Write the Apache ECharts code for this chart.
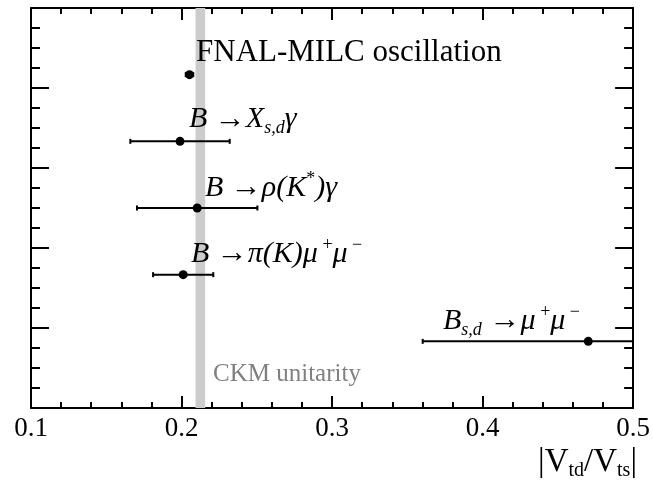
<!DOCTYPE html>
<html>
<head>
<meta charset="utf-8">
<script src="https://cdn.jsdelivr.net/npm/echarts@6/dist/echarts.min.js"></script>
<style>
  html, body { margin: 0; padding: 0; background: #fff; }
  #chart { width: 653px; height: 482px; }
</style>
</head>
<body>
<div id="chart"></div>
<script>
// measurements of |Vtd/Vts|, one row per method (row 5 = top)
const rows = [5, 4, 3, 2, 1];
const central = [0.2053, 0.199, 0.2104, 0.2011, 0.4702];
const errLow = [0.0025, 0.033, 0.040, 0.020, 0.110];
const errHigh = [0.0025, 0.033, 0.040, 0.020, 0.110];
// CKM unitarity band
const ckmBand = [0.2093, 0.2157];
const xTicks = [0.1, 0.2, 0.3, 0.4, 0.5];

const serif = "'Liberation Serif', 'Times New Roman', serif";
const black = "#000";

const rich = {
  n: { fontFamily: serif, fontSize: 31, lineHeight: 36, color: black },
  i: { fontFamily: serif, fontSize: 30, fontStyle: "italic", lineHeight: 36, color: black },
  r: { fontFamily: serif, fontSize: 31, lineHeight: 36, color: black },
  sub: { fontFamily: serif, fontSize: 18, fontStyle: "italic", lineHeight: 18, verticalAlign: "bottom", color: black },
  sup: { fontFamily: serif, fontSize: 18, lineHeight: 20, verticalAlign: "top", color: black },
};

// label text and where it sits (left, top in px)
const labelTexts = [
  "{n|FNAL-MILC oscillation}",
  "{i|B }{r|→}{i|X}{sub|s,d}{i|γ}",
  "{i|B }{r|→}{i|ρ(K}{sup|*}{i|)γ}",
  "{i|B }{r|→}{i|π(K)μ}{sup| +}{i|μ}{sup| −}",
  "{i|B}{sub|s,d}{r| →}{i|μ}{sup| +}{i|μ}{sup| −}",
];
const labelPos = [
  [196, 37],
  [189, 104],
  [205, 170],
  [191, 236],
  [443, 303],
];

const chart = echarts.init(document.getElementById("chart"));

const xCommon = {
  type: "value",
  min: 0.1,
  max: 0.5,
  interval: 0.1,
  axisLine: { show: true, onZero: false, lineStyle: { color: black, width: 2 } },
  axisTick: { show: true, inside: true, length: 12, lineStyle: { color: black, width: 2 } },
  minorTick: { show: true, splitNumber: 5, length: 6, lineStyle: { color: black, width: 2 } },
  splitLine: { show: false },
};
const yCommon = {
  type: "value",
  min: 0,
  max: 6,
  interval: 1.2,
  axisLine: { show: true, onZero: false, lineStyle: { color: black, width: 2 } },
  axisTick: { show: true, inside: true, length: 18, lineStyle: { color: black, width: 2 } },
  minorTick: { show: true, splitNumber: 4, length: 9, lineStyle: { color: black, width: 2 } },
  splitLine: { show: false },
  axisLabel: { show: false },
};

chart.setOption({
  backgroundColor: "#fff",
  animation: false,
  grid: { left: 31, right: 18, top: 8, bottom: 74 },
  xAxis: [
    Object.assign({}, xCommon, {
      position: "bottom",
      axisLabel: {
        show: true,
        margin: 7,
        color: black,
        fontFamily: serif,
        fontSize: 27,
        formatter: (v) => (xTicks.some((t) => Math.abs(t - v) < 1e-9) ? v.toFixed(1) : ""),
      },
    }),
    Object.assign({}, xCommon, { position: "top", axisLabel: { show: false } }),
  ],
  yAxis: [
    Object.assign({}, yCommon, { position: "left" }),
    Object.assign({}, yCommon, { position: "right" }),
  ],
  series: [
    {
      // CKM unitarity band
      type: "line",
      data: [],
      z: 1,
      silent: true,
      markArea: {
        silent: true,
        itemStyle: { color: "#cccccc" },
        data: [[{ xAxis: ckmBand[0] }, { xAxis: ckmBand[1] }]],
      },
    },
    {
      // horizontal error bars
      type: "custom",
      z: 2,
      clip: true,
      encode: { x: [0, 1], y: 2 },
      data: rows.map((r, i) => [central[i] - errLow[i], central[i] + errHigh[i], r]),
      renderItem: (params, api) => {
        const y = api.value(2);
        const p1 = api.coord([api.value(0), y]);
        const p2 = api.coord([api.value(1), y]);
        const st = { stroke: black, lineWidth: 2 };
        const h = 2.5;
        return {
          type: "group",
          children: [
            { type: "line", shape: { x1: p1[0], y1: p1[1], x2: p2[0], y2: p2[1] }, style: st },
            { type: "line", shape: { x1: p1[0], y1: p1[1] - h, x2: p1[0], y2: p1[1] + h }, style: st },
            { type: "line", shape: { x1: p2[0], y1: p2[1] - h, x2: p2[0], y2: p2[1] + h }, style: st },
          ],
        };
      },
    },
    {
      // central values
      type: "scatter",
      z: 3,
      symbol: "circle",
      symbolSize: 9,
      itemStyle: { color: black, opacity: 1 },
      data: rows.map((r, i) => [central[i], r]),
    },
  ],
  graphic: labelTexts
    .map((t, i) => ({
      type: "text",
      left: labelPos[i][0],
      top: labelPos[i][1],
      z: 10,
      style: { text: t, rich: rich },
    }))
    .concat([
      {
        type: "text",
        left: 213,
        top: 362,
        z: 10,
        style: {
          text: "CKM unitarity",
          fontFamily: serif,
          fontSize: 25,
          fill: "#808080",
        },
      },
      {
        type: "text",
        right: 16,
        top: 446,
        z: 10,
        style: {
          text: "{n||V}{sub|td}{n|/V}{sub|ts}{n||}",
          rich: {
            n: { fontFamily: serif, fontSize: 33, lineHeight: 36, color: black },
            sub: { fontFamily: serif, fontSize: 20, lineHeight: 20, verticalAlign: "bottom", color: black },
          },
        },
      },
    ]),
});
</script>
</body>
</html>
